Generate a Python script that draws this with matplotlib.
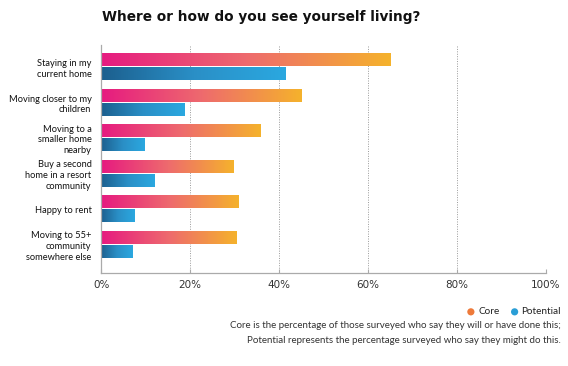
import matplotlib
matplotlib.use("Agg")
import matplotlib.pyplot as plt
import numpy as np
from matplotlib.colors import LinearSegmentedColormap

categories = [
    "Staying in my\ncurrent home",
    "Moving closer to my\nchildren",
    "Moving to a\nsmaller home\nnearby",
    "Buy a second\nhome in a resort\ncommunity",
    "Happy to rent",
    "Moving to 55+\ncommunity\nsomewhere else",
]
core = [65.1, 45.0, 35.8, 29.8, 30.9, 30.4]
potential = [41.5, 18.7, 9.7, 12.1, 7.5, 7.1]
ticks = [0, 20, 40, 60, 80, 100]
tick_labels = ["0%", "20%", "40%", "60%", "80%", "100%"]

core_cmap = LinearSegmentedColormap.from_list("core", ["#E61A80", "#EE6A6E", "#F5B22C"])
pot_cmap = LinearSegmentedColormap.from_list("pot", ["#1C5F8E", "#2A8FC6", "#2BA8E0"])

plt.rcParams['font.family'] = ['Lato', 'DejaVu Sans']

fig = plt.figure(figsize=(5.68, 3.66), dpi=100)
ax = fig.add_axes([0.178, 0.254, 0.783, 0.623])

h = 0.338
off = 0.197
grad = np.linspace(0, 1, 256).reshape(1, -1)
for i, (c, p) in enumerate(zip(core, potential)):
    yc = i - off
    yp = i + off
    ax.imshow(grad, cmap=core_cmap, aspect='auto', interpolation='bilinear',
              extent=[0, c, yc + h / 2, yc - h / 2], zorder=2)
    ax.imshow(grad, cmap=pot_cmap, aspect='auto', interpolation='bilinear',
              extent=[0, p, yp + h / 2, yp - h / 2], zorder=2)

ax.set_xlim(0, 100)
ax.set_ylim(5.80, -0.62)
ax.set_yticks(range(len(categories)))
ax.set_yticklabels(categories, fontsize=6.7, color="#111111", linespacing=1.25)
ax.tick_params(axis='y', length=0, pad=7)
ax.set_xticks(ticks)
ax.set_xticklabels(tick_labels, fontsize=7.5, color="#333333", family='DejaVu Sans')
ax.tick_params(axis='x', length=3, color="#aaaaaa", direction='in', pad=5)
for t in ticks[1:]:
    ax.axvline(t, color="#999999", linestyle=(0, (1, 1.5)), linewidth=0.7, zorder=1)
for s in ['top', 'right']:
    ax.spines[s].set_visible(False)
for s in ['left', 'bottom']:
    ax.spines[s].set_color("#aaaaaa")
    ax.spines[s].set_linewidth(0.9)

fig.text(0.180, 0.953, "Where or how do you see yourself living?", fontsize=9.85,
         fontweight='bold', color="#111111", ha='left', va='center', family='DejaVu Sans')

# legend
ly = 0.148
fig.patches.append(plt.Circle((0.829 * 568, ly * 366), 3.6, transform=None,
                              facecolor="#EE7A3A", edgecolor='none'))
fig.text(0.842, ly, "Core", fontsize=7.2, color="#222222", ha='left', va='center')
fig.patches.append(plt.Circle((0.906 * 568, ly * 366), 3.6, transform=None,
                              facecolor="#2A9ED6", edgecolor='none'))
fig.text(0.918, ly, "Potential", fontsize=7.2, color="#222222", ha='left', va='center')
fig.text(0.988, 0.111, "Core is the percentage of those surveyed who say they will or have done this;",
         fontsize=7.0, color="#333333", ha='right', va='center')
fig.text(0.988, 0.071, "Potential represents the percentage surveyed who say they might do this.",
         fontsize=7.0, color="#333333", ha='right', va='center')

fig.savefig("out.png", dpi=100, facecolor='white')
